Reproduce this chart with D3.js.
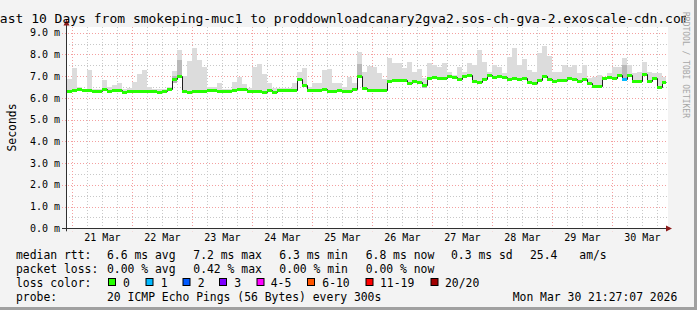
<!DOCTYPE html>
<html>
<head>
<meta charset="utf-8">
<script src="https://cdn.jsdelivr.net/npm/d3@7"></script>
<style>
  body { margin: 0; background: #f3f3f3; }
  svg text { font-family: "DejaVu Sans Mono", monospace; }
</style>
</head>
<body>
<div id="chart"></div>
<script>
// median rtt (ms), one value every 2 hours from Mar 20 22:00
var median = [
  6.33, 6.38, 6.42, 6.35, 6.35, 6.30, 6.33, 6.40, 6.30, 6.38, 6.35, 6.29,
  6.33, 6.33, 6.33, 6.33, 6.30, 6.33, 6.29, 6.31, 6.40, 6.85, 7.02, 6.33,
  6.29, 6.33, 6.33, 6.33, 6.36, 6.36, 6.33, 6.31, 6.30, 6.35, 6.42, 6.40,
  6.33, 6.33, 6.33, 6.29, 6.36, 6.29, 6.36, 6.36, 6.36, 6.36, 6.85, 6.60,
  6.36, 6.38, 6.36, 6.40, 6.33, 6.33, 6.38, 6.33, 6.33, 6.42, 7.00, 6.45,
  6.36, 6.36, 6.36, 6.36, 6.78, 6.82, 6.82, 6.84, 6.67, 6.78, 6.75, 6.60,
  6.92, 6.98, 6.92, 6.90, 7.00, 6.95, 6.85, 7.00, 7.05, 6.80, 6.72, 6.85,
  7.05, 6.95, 7.00, 6.97, 6.85, 6.90, 6.88, 6.90, 6.72, 6.67, 6.82, 7.00,
  6.85, 6.80, 6.82, 6.82, 6.90, 6.85, 6.80, 6.88, 6.68, 6.57, 6.53, 6.90,
  6.95, 6.92, 7.05, 6.85, 7.05, 6.80, 6.79, 7.10, 6.80, 6.93, 6.52, 6.75
];

// top of the smoke (slowest ping) for the same slots
var smokeTop = [
  6.85, 7.39, 6.50, 6.40, 7.28, 6.40, 6.40, 6.82, 6.50, 6.60, 6.67, 6.40,
  6.45, 6.75, 7.10, 7.28, 6.50, 6.40, 6.40, 6.40, 6.50, 7.25, 8.20, 7.00,
  7.71, 8.28, 7.74, 7.40, 6.50, 6.50, 6.70, 6.40, 6.40, 6.75, 6.97, 6.65,
  6.45, 7.42, 7.57, 7.10, 6.70, 6.45, 6.45, 6.45, 6.45, 6.70, 7.20, 7.38,
  6.50, 6.70, 6.70, 7.30, 7.35, 6.70, 6.70, 6.50, 6.97, 6.70, 8.10, 7.21,
  7.47, 7.44, 7.13, 6.86, 7.82, 7.59, 7.62, 7.36, 7.67, 7.21, 7.32, 6.90,
  7.59, 7.51, 7.44, 7.59, 7.21, 7.05, 7.44, 7.21, 7.59, 7.51, 8.20, 7.67,
  7.21, 7.51, 7.44, 7.13, 7.90, 8.30, 7.51, 7.78, 7.28, 7.21, 8.08, 8.39,
  7.93, 7.21, 7.21, 7.51, 7.44, 7.51, 7.13, 7.51, 6.90, 6.98, 7.05, 6.95,
  7.13, 7.44, 7.44, 7.82, 7.51, 7.13, 7.21, 7.67, 7.21, 7.13, 7.13, 6.95
];

// darker smoke: [slot, low, high]
var smokeDark = [[21, 6.70, 7.00], [22, 7.00, 7.75], [58, 7.00, 7.55], [71, 6.45, 6.65], [111, 6.85, 7.50]];

// slots with packet loss: [slot, lost pings]
var lossPoints = [[111, 1]];

var lossLabels = ["0", "1", "2", "3", "4-5", "6-10", "11-19", "20/20"];
var lossColors = ["#26ff00", "#00b8ff", "#0059ff", "#7e00ff", "#ff00ff", "#ff5500", "#ff0000", "#a10000"];

var yTicks = [0, 1, 2, 3, 4, 5, 6, 7, 8, 9];

var titleText = "Last 10 Days from smokeping-muc1 to proddownloadcanary2gva2.sos-ch-gva-2.exoscale-cdn.com";

var svgWidth = 697;
var svgHeight = 310;

var plot = { left: 66, right: 666, canvasRight: 668, top: 27, bottom: 228.3 };

var svg = d3.select("#chart")
  .append("svg")
  .attr("width", svgWidth)
  .attr("height", svgHeight);

// background + shaded frame
svg.append("rect")
  .attr("width", svgWidth).attr("height", svgHeight)
  .attr("fill", "#f3f3f3");
svg.append("path")
  .attr("d", `M0,${svgHeight - 1.5}H${svgWidth - 1.5}V0`)
  .attr("fill", "none").attr("stroke", "#a0a0a0").attr("stroke-width", 3);

svg.append("rect")
  .attr("x", plot.left).attr("y", plot.top)
  .attr("width", plot.canvasRight - plot.left)
  .attr("height", plot.bottom - plot.top)
  .attr("fill", "#ffffff");

var start = new Date(2026, 2, 20, 21, 27, 7);
var end = new Date(2026, 2, 30, 21, 27, 7);
var firstSlot = new Date(2026, 2, 20, 22, 0, 0);

var x = d3.scaleTime().domain([start, end]).range([plot.left, plot.right]);
var y = d3.scaleLinear().domain([0, 9]).range([plot.bottom, 32.7]);

function slotTime(i) { return d3.timeHour.offset(firstSlot, 2 * i); }
function sx(t) { return Math.round(Math.min(x(t), plot.right)); }
function py(v) { return Math.round(y(v)); }

var grid = svg.append("g");

// minor grid
y.ticks(18).filter(d => d % 1 !== 0).forEach(function(v) {
  grid.append("line")
    .attr("x1", plot.left).attr("x2", plot.canvasRight)
    .attr("y1", Math.round(y(v)) + 0.5).attr("y2", Math.round(y(v)) + 0.5)
    .attr("stroke", "#c8c8c8").attr("stroke-dasharray", "1,2");
});
d3.timeHour.every(6).range(start, end).filter(d => d.getHours() !== 0).forEach(function(t) {
  grid.append("line")
    .attr("x1", Math.round(x(t)) + 0.5).attr("x2", Math.round(x(t)) + 0.5)
    .attr("y1", plot.top).attr("y2", plot.bottom)
    .attr("stroke", "#c8c8c8").attr("stroke-dasharray", "1,2");
});

// major grid
yTicks.slice(1).forEach(function(v) {
  grid.append("line")
    .attr("x1", plot.left - 4).attr("x2", plot.canvasRight)
    .attr("y1", Math.round(y(v)) + 0.5).attr("y2", Math.round(y(v)) + 0.5)
    .attr("stroke", "#f4a0a0").attr("stroke-dasharray", "1,2");
});
d3.timeDay.range(start, end).forEach(function(t) {
  grid.append("line")
    .attr("x1", Math.round(x(t)) + 0.5).attr("x2", Math.round(x(t)) + 0.5)
    .attr("y1", plot.top).attr("y2", plot.bottom + 3)
    .attr("stroke", "#f4a0a0").attr("stroke-dasharray", "1,2");
});

// smoke
var smoke = svg.append("g").attr("shape-rendering", "crispEdges");
smoke.selectAll("rect.smoke")
  .data(median)
  .enter()
  .append("rect")
  .attr("class", "smoke")
  .attr("x", (d, i) => sx(slotTime(i)))
  .attr("width", (d, i) => sx(slotTime(i + 1)) - sx(slotTime(i)))
  .attr("y", (d, i) => py(smokeTop[i]))
  .attr("height", (d, i) => py(d - 0.05) - py(smokeTop[i]))
  .attr("fill", "#dcdcdc");

smoke.selectAll("rect.dark")
  .data(smokeDark)
  .enter()
  .append("rect")
  .attr("class", "dark")
  .attr("x", d => sx(slotTime(d[0])))
  .attr("width", d => sx(slotTime(d[0] + 1)) - sx(slotTime(d[0])))
  .attr("y", d => py(d[2]))
  .attr("height", d => py(d[1]) - py(d[2]))
  .attr("fill", "#b8b8b8");

// median: dark step line, then loss-coloured segments on top
var stepLine = d3.line()
  .x(d => d[0]).y(d => d[1])
  .curve(d3.curveStepAfter);
var pts = median.map((d, i) => [sx(slotTime(i)) + 0.5, py(d) + 0.5]);
pts.push([plot.right + 0.5, py(median[median.length - 1]) + 0.5]);
svg.append("path")
  .attr("d", stepLine(pts))
  .attr("fill", "none")
  .attr("stroke", "#202020")
  .attr("stroke-width", 1);

var lossBySlot = new Map(lossPoints);
svg.append("g").attr("shape-rendering", "crispEdges")
  .selectAll("line")
  .data(median)
  .enter()
  .append("line")
  .attr("x1", (d, i) => sx(slotTime(i)))
  .attr("x2", (d, i) => sx(slotTime(i + 1)))
  .attr("y1", d => py(d) + 0.5)
  .attr("y2", d => py(d) + 0.5)
  .attr("stroke", (d, i) => lossColors[lossBySlot.get(i) || 0])
  .attr("stroke-width", 3);

// axes
var axisColor = "#303030";
svg.append("line")
  .attr("x1", plot.left + 0.5).attr("x2", plot.left + 0.5)
  .attr("y1", plot.bottom + 3).attr("y2", 22)
  .attr("stroke", axisColor);
svg.append("line")
  .attr("x1", plot.left - 4).attr("x2", plot.canvasRight + 2)
  .attr("y1", Math.round(plot.bottom) + 0.5).attr("y2", Math.round(plot.bottom) + 0.5)
  .attr("stroke", axisColor);
svg.append("path")
  .attr("d", `M${plot.left - 2.5},25.5L${plot.left + 0.5},19.5L${plot.left + 3.5},25.5Z`)
  .attr("fill", "#8b1a1a");
var ab = Math.round(plot.bottom) + 0.5;
svg.append("path")
  .attr("d", `M${plot.canvasRight - 2},${ab - 3}L${plot.canvasRight + 4},${ab}L${plot.canvasRight - 2},${ab + 3}Z`)
  .attr("fill", "#8b1a1a");

// y tick labels
svg.append("g").selectAll("text")
  .data(yTicks)
  .enter()
  .append("text")
  .attr("x", 60)
  .attr("y", d => y(d) + 3.6)
  .attr("text-anchor", "end")
  .attr("font-size", 10)
  .text(d => d.toFixed(1) + " m");

// x tick labels at noon
svg.append("g").selectAll("text")
  .data(d3.timeDay.range(start, end).map(t => d3.timeHour.offset(t, 12)))
  .enter()
  .append("text")
  .attr("x", d => x(d))
  .attr("y", 241)
  .attr("text-anchor", "middle")
  .attr("font-size", 10)
  .text(d3.timeFormat("%d %b"));

svg.append("text")
  .attr("transform", "translate(15.5,127.5) rotate(-90)")
  .attr("text-anchor", "middle")
  .attr("font-size", 11.4)
  .text("Seconds");

// title, clipped like the original
svg.append("clipPath").attr("id", "titleClip")
  .append("rect").attr("x", 0).attr("y", 0).attr("width", 686).attr("height", 27);
svg.append("text")
  .attr("clip-path", "url(#titleClip)")
  .attr("x", -8).attr("y", 23)
  .attr("font-size", 13)
  .text(titleText);

svg.append("text")
  .attr("transform", "translate(683,12) rotate(90)")
  .attr("font-size", 8)
  .attr("fill", "#a6a6a6")
  .text("RRDTOOL / TOBI OETIKER");

// legend
var legend = svg.append("g").attr("font-size", 11.4);
function put(xp, yp, s) {
  legend.append("text").attr("x", xp).attr("y", yp).attr("xml:space", "preserve").text(s);
}
var rows = [258.5, 272.5, 286.5, 300.5];
put(16, rows[0], "median rtt:");
put(107, rows[0], "6.6 ms avg");
put(193.3, rows[0], "7.2 ms max");
put(279.3, rows[0], "6.3 ms min");
put(365.7, rows[0], "6.8 ms now");
put(451, rows[0], "0.3 ms sd");
put(530, rows[0], "25.4");
put(579.3, rows[0], "am/s");

put(16, rows[1], "packet loss:");
put(107, rows[1], "0.00 % avg");
put(193.3, rows[1], "0.42 % max");
put(279.3, rows[1], "0.00 % min");
put(365.7, rows[1], "0.00 % now");

put(16, rows[2], "loss color:");
var boxX = [108.5, 146, 183, 219.5, 257, 307.5, 366, 431];
var labX = [123, 160.7, 197.7, 234.3, 270.7, 322.3, 380, 445];
lossLabels.forEach(function(l, i) {
  legend.append("rect")
    .attr("x", boxX[i]).attr("y", 278.5)
    .attr("width", 7).attr("height", 7)
    .attr("fill", lossColors[i])
    .attr("stroke", "#000");
  put(labX[i], rows[2], l);
});

put(16, rows[3], "probe:");
put(107, rows[3], "20 ICMP Echo Pings (56 Bytes) every 300s");
put(512.7, rows[3], "Mon Mar 30 21:27:07 2026");
</script>
</body>
</html>
